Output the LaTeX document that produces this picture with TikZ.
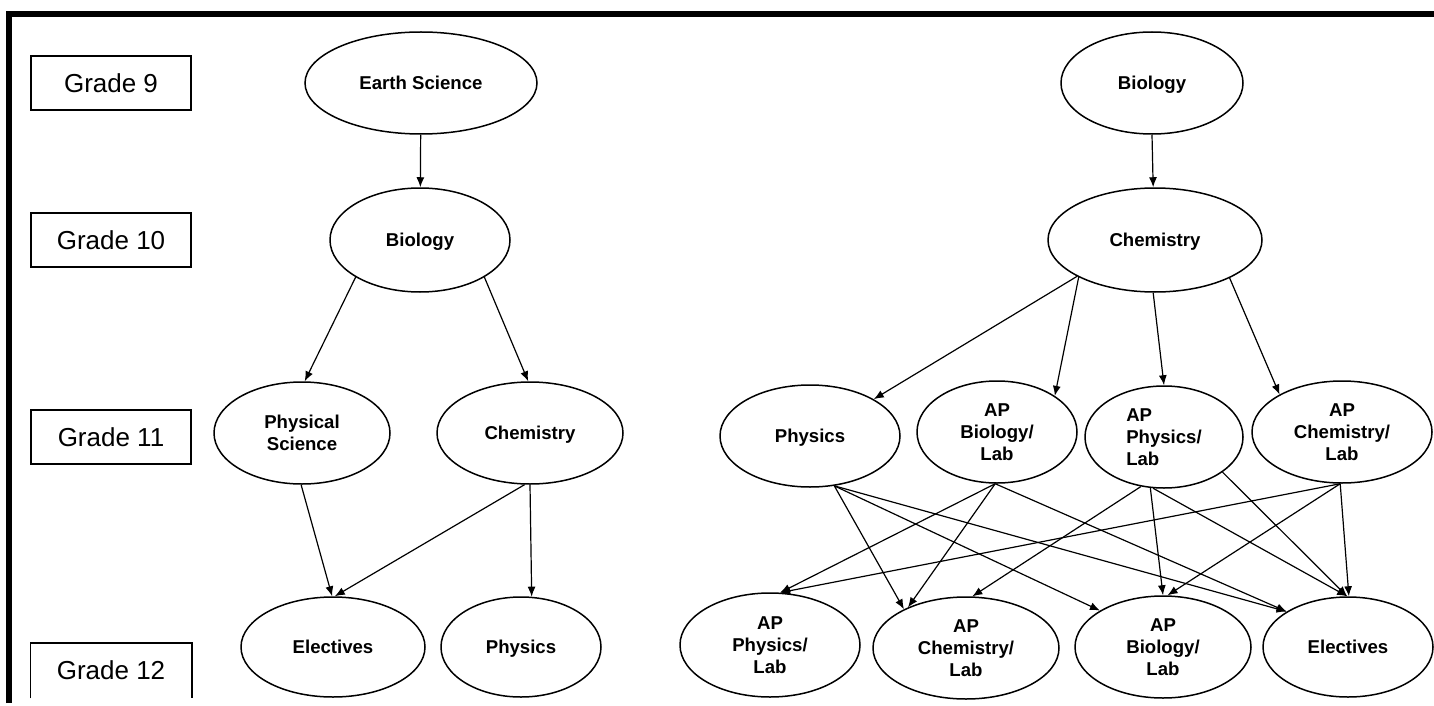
\documentclass[tikz,border=0pt]{standalone}
\usepackage{fontspec}
\setmainfont{Liberation Sans}
\usetikzlibrary{shapes.geometric,arrows.meta}

\tikzset{
  grade/.style={rectangle, draw, line width=0.75pt, minimum width=80pt, minimum height=27pt, inner sep=0pt, font=\fontsize{13}{15}\selectfont},
  course/.style={ellipse, draw, line width=0.75pt, inner sep=0pt, minimum height=51pt, text depth=0pt, align=center, font=\bfseries\fontsize{9.3}{11}\selectfont}
}

\begin{document}
\begin{tikzpicture}[x=0.5pt, y=-0.5pt, >={Latex[length=5pt,width=4pt]}, line width=0.6pt]
\useasboundingbox (0,0) rectangle (1434,706);
\draw[line width=3pt] (9,703) -- (9,14) -- (1434,14);

\node[grade] (G9) at (111,83) {Grade 9};
\node[grade] (G10) at (111,240) {Grade 10};
\node[grade] (G11) at (111,437) {Grade 11};
\node[grade, draw=none] (G12) at (111,670.5) {Grade 12};
\draw[line width=0.75pt] (G12.south west) |- (G12.north east) -- (G12.south east);

\node[course, minimum width=116pt] (ES) at (421,83) {Earth Science};
\node[course, minimum width=90pt, minimum height=52pt] (BIO) at (420,240) {Biology};
\node[course, minimum width=88pt] (PS) at (302,433) {Physical\\Science};
\node[course, minimum width=93pt] (CH) at (530,433) {Chemistry};
\node[course, minimum width=92pt, minimum height=50pt] (EL) at (333,647) {Electives};
\node[course, minimum width=80pt, minimum height=50pt] (PH) at (521,647) {Physics};

\node[course, minimum width=91pt] (B2) at (1152,83) {Biology};
\node[course, minimum width=107pt, minimum height=52pt] (C2) at (1155,240) {Chemistry};
\node[course, minimum width=90pt] (P2) at (810,436) {Physics};
\node[course, minimum width=80pt] (APB) at (997,432) {AP\\Biology/\\Lab};
\node[course, minimum width=79pt, align=left] (APP) at (1164,437) {AP\\Physics/\\Lab};
\node[course, minimum width=90pt] (APC) at (1342,432) {AP\\Chemistry/\\Lab};
\node[course, minimum width=90pt, minimum height=52pt] (APP12) at (770,645) {AP\\Physics/\\Lab};
\node[course, minimum width=93pt] (APC12) at (966,648) {AP\\Chemistry/\\Lab};
\node[course, minimum width=88pt] (APB12) at (1163,647) {AP\\Biology/\\Lab};
\node[course, minimum width=85pt, minimum height=50pt] (EL12) at (1348,647) {Electives};

\draw[->] (ES) -- (BIO);
\draw[->] (BIO.210) -- (PS.87);
\draw[->] (BIO.330) -- (CH.92);
\draw[->] (PS.269) -- (EL.91);
\draw[->] (CH.264) -- (EL.88);
\draw[->] (CH.270) -- (PH.78);

\draw[->] (B2.270) -- (C2.92);
\draw[->] (C2.205) -- (P2.30);
\draw[->] (C2.206) -- (APB.32);
\draw[->] (C2.268) -- (APP.90);
\draw[->] (C2.333) -- (APC.149);

\draw[->] (P2.296) -- (APC12.148);
\draw[->] (P2.296) -- (APB12.150);
\draw[->] (P2.296) -- (EL12.150);
\draw[->] (APB.268) -- (APP12.79);
\draw[->] (APB.268) -- (APC12.145);
\draw[->] (APB.268) -- (EL12.150);
\draw[->] (APP.245) -- (APC12.83);
\draw[->] (APP.255) -- (APB12.90);
\draw[->] (APP.258) -- (EL12.91);
\draw[->] (APP.329) -- (EL12.91);
\draw[->] (APC.268) -- (APP12.79);
\draw[->] (APC.268) -- (APB12.85);
\draw[->] (APC.268) -- (EL12.89);

\end{tikzpicture}
\end{document}
